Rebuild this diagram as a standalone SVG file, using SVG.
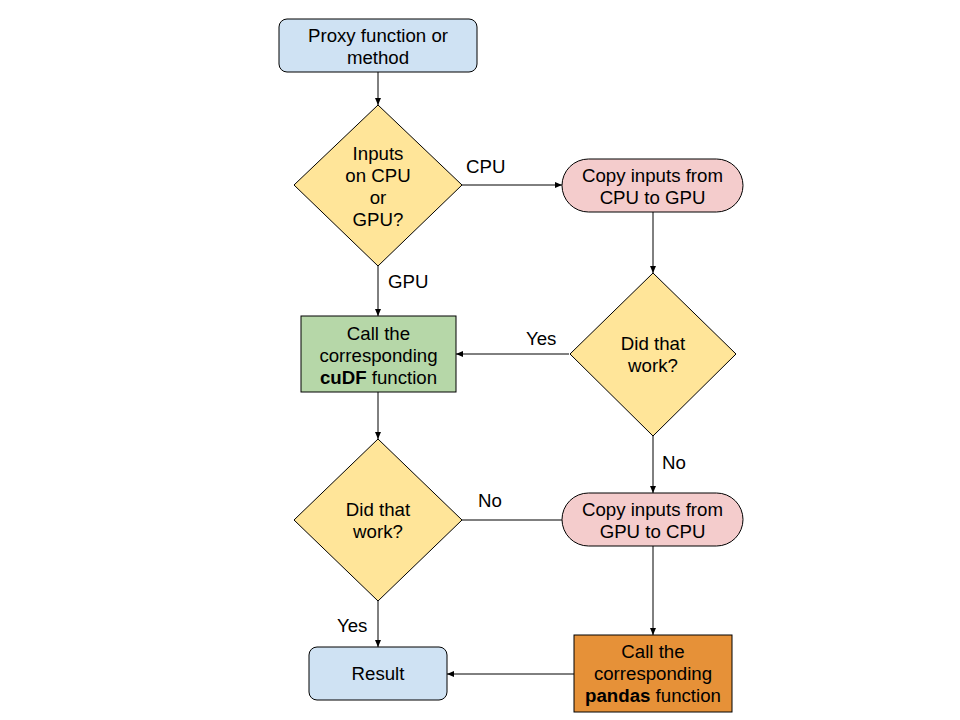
<svg xmlns="http://www.w3.org/2000/svg" width="960" height="720" viewBox="0 0 960 720">
<style>
  text { font-family: "Liberation Sans", Arial, sans-serif; font-size: 18.67px; fill: #000; text-anchor: middle; }
  .lbl { text-anchor: start; }
  .node { stroke: #000; stroke-width: 1; }
  .blue { fill: #cfe2f3; }
  .yellow { fill: #ffe599; }
  .pink { fill: #f4cccc; }
  .green { fill: #b6d7a8; }
  .orange { fill: #e69138; }
  .edge { stroke: #000; stroke-width: 1; fill: none; }
  .b { font-weight: bold; }
</style>
<defs>
  <marker id="arr" markerWidth="7" markerHeight="6" refX="7" refY="3" orient="auto" markerUnits="userSpaceOnUse">
    <path d="M0,0 L7,3 L0,6 Z" fill="#000"/>
  </marker>
</defs>
<rect width="960" height="720" fill="#fff"/>

<g id="connectors">
  <line class="edge" x1="378" y1="72" x2="378" y2="105" marker-end="url(#arr)"/>
  <line class="edge" x1="462" y1="185" x2="562" y2="185" marker-end="url(#arr)"/>
  <line class="edge" x1="653" y1="212" x2="653" y2="273" marker-end="url(#arr)"/>
  <line class="edge" x1="378" y1="266" x2="378" y2="316" marker-end="url(#arr)"/>
  <line class="edge" x1="569" y1="354" x2="456" y2="354" marker-end="url(#arr)"/>
  <line class="edge" x1="378" y1="392" x2="378" y2="439" marker-end="url(#arr)"/>
  <line class="edge" x1="653" y1="436" x2="653" y2="493" marker-end="url(#arr)"/>
  <line class="edge" x1="562" y1="520" x2="462" y2="520"/>
  <line class="edge" x1="653" y1="546" x2="653" y2="635" marker-end="url(#arr)"/>
  <line class="edge" x1="378" y1="601" x2="378" y2="647" marker-end="url(#arr)"/>
  <line class="edge" x1="574" y1="674" x2="447" y2="674" marker-end="url(#arr)"/>
  <text class="lbl" x="466" y="173">CPU</text>
  <text class="lbl" x="388" y="288">GPU</text>
  <text class="lbl" x="526" y="345">Yes</text>
  <text class="lbl" x="662" y="469">No</text>
  <text class="lbl" x="478" y="507">No</text>
  <text class="lbl" x="337" y="632">Yes</text>
</g>

<g id="proxy">
  <rect class="node blue" x="279" y="19" width="198" height="53" rx="8"/>
  <text x="378" y="42">Proxy function or</text>
  <text x="378" y="64">method</text>
</g>

<g id="inputs-decision">
  <polygon class="node yellow" points="378,105 462,185 378,266 294,185"/>
  <text x="378" y="160">Inputs</text>
  <text x="378" y="182">on CPU</text>
  <text x="378" y="204">or</text>
  <text x="378" y="226">GPU?</text>
</g>

<g id="copy-cpu-gpu">
  <rect class="node pink" x="562" y="159" width="181" height="53" rx="26.5"/>
  <text x="652.5" y="182">Copy inputs from</text>
  <text x="652.5" y="204">CPU to GPU</text>
</g>

<g id="did-work-1">
  <polygon class="node yellow" points="653,273 736,354 653,436 570,354"/>
  <text x="653" y="350">Did that</text>
  <text x="653" y="372">work?</text>
</g>

<g id="cudf">
  <rect class="node green" x="301" y="316" width="155" height="76"/>
  <text x="378.5" y="340">Call the</text>
  <text x="378.5" y="362">corresponding</text>
  <text x="378.5" y="384"><tspan class="b">cuDF</tspan> function</text>
</g>

<g id="did-work-2">
  <polygon class="node yellow" points="378,439 462,520 378,601 294,520"/>
  <text x="378" y="516">Did that</text>
  <text x="378" y="538">work?</text>
</g>

<g id="copy-gpu-cpu">
  <rect class="node pink" x="562" y="493" width="181" height="53" rx="26.5"/>
  <text x="652.5" y="516">Copy inputs from</text>
  <text x="652.5" y="538">GPU to CPU</text>
</g>

<g id="pandas">
  <rect class="node orange" x="574" y="635" width="158" height="77"/>
  <text x="653" y="658">Call the</text>
  <text x="653" y="680">corresponding</text>
  <text x="653" y="702"><tspan class="b">pandas</tspan> function</text>
</g>

<g id="result">
  <rect class="node blue" x="309" y="647" width="138" height="53" rx="8"/>
  <text x="378" y="680">Result</text>
</g>
</svg>
